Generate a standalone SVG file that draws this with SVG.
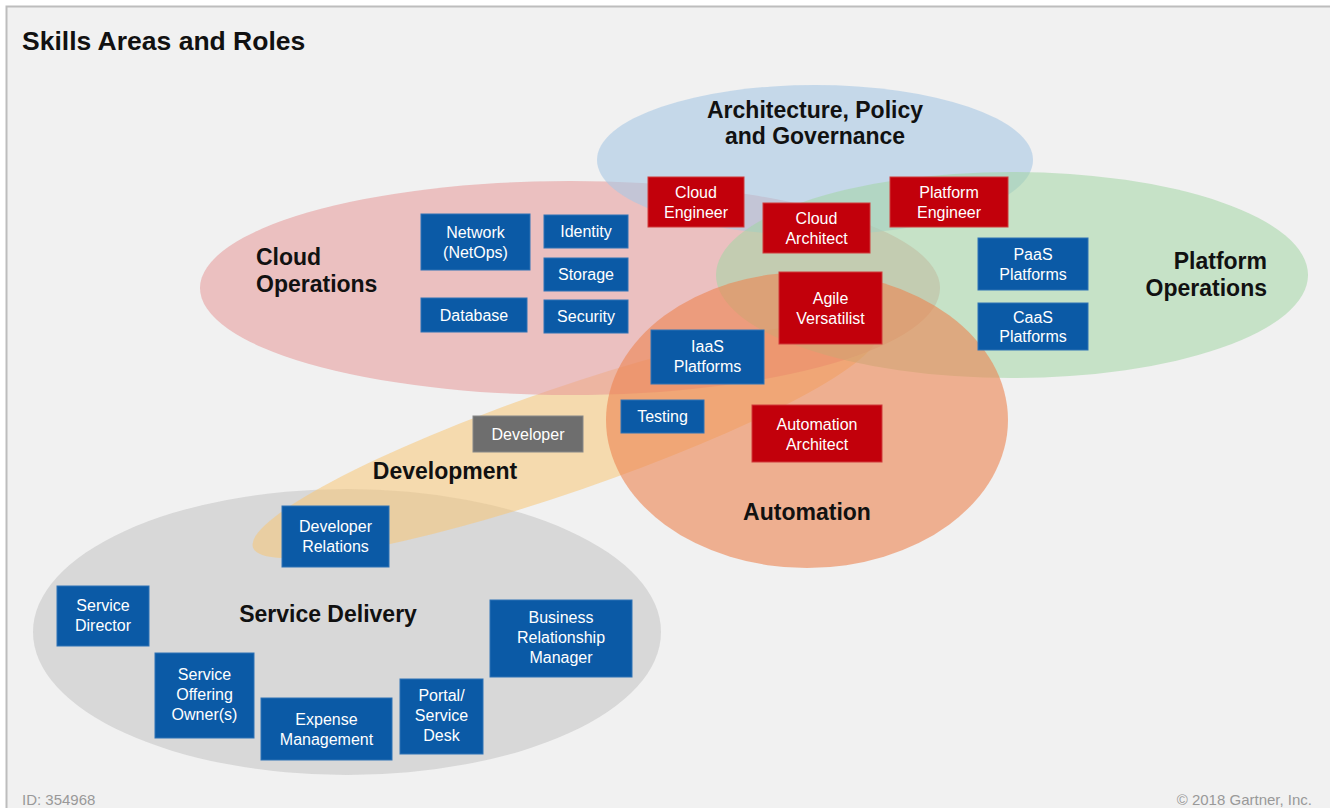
<svg xmlns="http://www.w3.org/2000/svg" width="1330" height="808" viewBox="0 0 1330 808">
<style>
.lbl{font-family:"Liberation Sans",Arial,sans-serif;font-weight:bold;fill:#111;font-size:23px}
.bt{font-family:"Liberation Sans",Arial,sans-serif;fill:#fff;font-size:16px;text-anchor:middle}
.blue{fill:#0b5aa6;stroke:#2f72b5;stroke-width:1}
.red{fill:#c2000b;stroke:#cf3a3a;stroke-width:1}
.gray{fill:#6e6e6e;stroke:#888;stroke-width:1}
.foot{font-family:"Liberation Sans",Arial,sans-serif;fill:#999;font-size:15px}
</style>
<rect x="0" y="0" width="1330" height="808" fill="#ffffff"/>
<rect x="6.5" y="6.5" width="1330" height="810" fill="#f1f1f1" stroke="#bdbdbd" stroke-width="2"/>
<text x="22" y="50" font-family="Liberation Sans,Arial,sans-serif" font-weight="bold" font-size="26.5" fill="#111">Skills Areas and Roles</text>

<g id="areas">
<g id="service-delivery"><ellipse cx="347" cy="632" rx="314" ry="143" fill="#cfcfcf" opacity="0.75"/></g>
<g id="development"><ellipse cx="565" cy="440" rx="330" ry="52" transform="rotate(-19 565 440)" fill="#f7c676" opacity="0.55"/></g>
<g id="cloud-operations"><ellipse cx="570" cy="288" rx="370" ry="107" fill="#e59898" opacity="0.55"/></g>
<g id="architecture"><ellipse cx="815" cy="160" rx="218" ry="75" fill="#a8c8e4" opacity="0.6"/></g>
<g id="platform-operations"><ellipse cx="1012" cy="275" rx="296" ry="103" fill="#a2d6a4" opacity="0.55"/></g>
<g id="automation"><ellipse cx="807" cy="420" rx="201" ry="148" fill="#ec8450" opacity="0.6"/></g>
</g>

<g id="area-labels">
<text class="lbl" x="815" y="118" text-anchor="middle">Architecture, Policy</text>
<text class="lbl" x="815" y="144" text-anchor="middle">and Governance</text>
<text class="lbl" x="256" y="265">Cloud</text>
<text class="lbl" x="256" y="292">Operations</text>
<text class="lbl" x="1267" y="269" text-anchor="end">Platform</text>
<text class="lbl" x="1267" y="296" text-anchor="end">Operations</text>
<text class="lbl" x="445" y="479" text-anchor="middle">Development</text>
<text class="lbl" x="807" y="520" text-anchor="middle">Automation</text>
<text class="lbl" x="328" y="622" text-anchor="middle">Service Delivery</text>
</g>

<g id="network"><rect class="blue" x="421" y="214" width="109" height="56"/><text class="bt" x="475.5" y="238">Network</text><text class="bt" x="475.5" y="258">(NetOps)</text></g>
<g id="identity"><rect class="blue" x="544" y="215" width="84" height="33"/><text class="bt" x="586" y="237">Identity</text></g>
<g id="storage"><rect class="blue" x="544" y="258" width="84" height="33"/><text class="bt" x="586" y="280">Storage</text></g>
<g id="database"><rect class="blue" x="421" y="298" width="106" height="34"/><text class="bt" x="474" y="321">Database</text></g>
<g id="security"><rect class="blue" x="544" y="300" width="84" height="33"/><text class="bt" x="586" y="322">Security</text></g>
<g id="cloud-engineer"><rect class="red" x="648" y="177" width="96" height="50"/><text class="bt" x="696" y="198">Cloud</text><text class="bt" x="696" y="218">Engineer</text></g>
<g id="cloud-architect"><rect class="red" x="763" y="203" width="107" height="50"/><text class="bt" x="816.5" y="224">Cloud</text><text class="bt" x="816.5" y="244">Architect</text></g>
<g id="platform-engineer"><rect class="red" x="890" y="177" width="118" height="50"/><text class="bt" x="949" y="198">Platform</text><text class="bt" x="949" y="218">Engineer</text></g>
<g id="paas"><rect class="blue" x="978" y="238" width="110" height="52"/><text class="bt" x="1033" y="260">PaaS</text><text class="bt" x="1033" y="280">Platforms</text></g>
<g id="caas"><rect class="blue" x="978" y="303" width="110" height="47"/><text class="bt" x="1033" y="323">CaaS</text><text class="bt" x="1033" y="342">Platforms</text></g>
<g id="agile-versatilist"><rect class="red" x="779" y="272" width="103" height="72"/><text class="bt" x="830.5" y="304">Agile</text><text class="bt" x="830.5" y="324">Versatilist</text></g>
<g id="iaas"><rect class="blue" x="651" y="330" width="113" height="54"/><text class="bt" x="707.5" y="352">IaaS</text><text class="bt" x="707.5" y="372">Platforms</text></g>
<g id="testing"><rect class="blue" x="621" y="400" width="83" height="33"/><text class="bt" x="662.5" y="422">Testing</text></g>
<g id="automation-architect"><rect class="red" x="752" y="405" width="130" height="57"/><text class="bt" x="817" y="430">Automation</text><text class="bt" x="817" y="450">Architect</text></g>
<g id="developer"><rect class="gray" x="473" y="416" width="110" height="36"/><text class="bt" x="528" y="440" fill="#e8e8e8">Developer</text></g>
<g id="developer-relations"><rect class="blue" x="282" y="506" width="107" height="61"/><text class="bt" x="335.5" y="532">Developer</text><text class="bt" x="335.5" y="552">Relations</text></g>
<g id="service-director"><rect class="blue" x="57" y="586" width="92" height="60"/><text class="bt" x="103" y="611">Service</text><text class="bt" x="103" y="631">Director</text></g>
<g id="service-offering-owner"><rect class="blue" x="155" y="653" width="99" height="85"/><text class="bt" x="204.5" y="680">Service</text><text class="bt" x="204.5" y="700">Offering</text><text class="bt" x="204.5" y="720">Owner(s)</text></g>
<g id="expense-management"><rect class="blue" x="261" y="698" width="131" height="62"/><text class="bt" x="326.5" y="725">Expense</text><text class="bt" x="326.5" y="745">Management</text></g>
<g id="portal-service-desk"><rect class="blue" x="400" y="679" width="83" height="75"/><text class="bt" x="441.5" y="701">Portal/</text><text class="bt" x="441.5" y="721">Service</text><text class="bt" x="441.5" y="741">Desk</text></g>
<g id="business-relationship-manager"><rect class="blue" x="490" y="600" width="142" height="77"/><text class="bt" x="561" y="623">Business</text><text class="bt" x="561" y="643">Relationship</text><text class="bt" x="561" y="663">Manager</text></g>

<g id="connectors"></g>

<text class="foot" x="22" y="805">ID: 354968</text>
<text class="foot" x="1312" y="805" text-anchor="end">© 2018 Gartner, Inc.</text>
</svg>
